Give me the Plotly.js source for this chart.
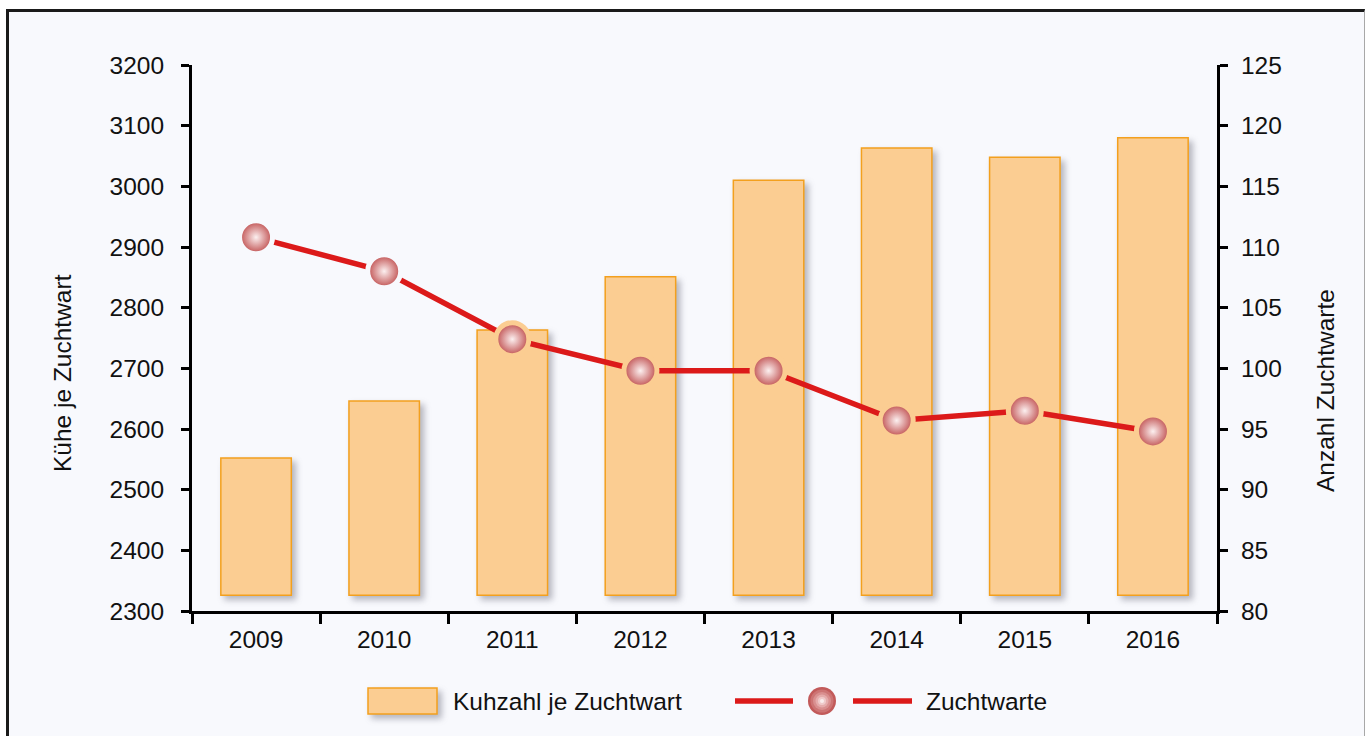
<!DOCTYPE html>
<html>
<head>
<meta charset="utf-8">
<script src="https://cdn.plot.ly/plotly-3.0.1.min.js"></script>
<style>
  html, body { margin: 0; padding: 0; background: #ffffff; overflow: hidden; width: 1365px; height: 736px; }
  #frame { position: absolute; left: 6px; top: 9px; width: 1355px; height: 740px;
           border-top: 3px solid #1a1a1a; border-left: 3px solid #1a1a1a; border-right: 1px solid #a8a8a8;
           background: #f8f9fd; overflow: hidden; }
  #chart { width: 1355px; height: 740px; }
  .barlayer .point path { filter: drop-shadow(4px 4px 3px rgba(70,70,90,0.38)); }
  .shapelayer path[data-index="0"] { filter: drop-shadow(4px 4px 3px rgba(70,70,90,0.38)); }
</style>
</head>
<body>
<div id="frame"><div id="chart"></div></div>
<script>
// ---- data ----
const years = ['2009', '2010', '2011', '2012', '2013', '2014', '2015', '2016'];
const kuhzahl = [2552, 2646, 2763, 2851, 3010, 3063, 3048, 3080];
const zuchtwarte = [110.8, 108.0, 102.4, 99.8, 99.8, 95.7, 96.5, 94.8];
const leftTicks = [2300, 2400, 2500, 2600, 2700, 2800, 2900, 3000, 3100, 3200];
const rightTicks = [80, 85, 90, 95, 100, 105, 110, 115, 120, 125];
const leftTitle = 'Kühe je Zuchtwart';
const rightTitle = 'Anzahl Zuchtwarte';
const barBase = 2326;

// ---- style ----
const FONT = 'Liberation Sans, Arial, Helvetica, sans-serif';
const BG = '#f8f9fd';
const BAR_FILL = '#fbcd92';
const BAR_EDGE = '#f3a01e';
const RED = '#dc1a1a';
// per-point ring colour (gap around markers matches what lies beneath)
const ringColors = [BG, BG, BAR_FILL, BAR_FILL, BAR_FILL, BAR_FILL, BAR_FILL, BAR_FILL];

// plot area inside the chart div (px)
const W = 1355, H = 740;
const M = {l: 183, r: 147, t: 53, b: 141};
const PW = W - M.l - M.r, PH = H - M.t - M.b;
// page coords -> paper coords (div origin at page 9,12)
const px = X => (X - 9 - M.l) / PW;
const py = Y => (H - M.b - (Y - 12)) / PH;

const bars = {
  type: 'bar', name: 'Kuhzahl je Zuchtwart',
  x: years, y: kuhzahl.map(v => v - barBase), base: barBase,
  width: 0.55,
  marker: {color: BAR_FILL, line: {color: BAR_EDGE, width: 1.5}},
  yaxis: 'y', hoverinfo: 'x+text', text: kuhzahl.map(String), textposition: 'none'
};
const line = {
  type: 'scatter', mode: 'lines+markers', name: 'Zuchtwarte',
  x: years, y: zuchtwarte, yaxis: 'y2',
  line: {color: RED, width: 5.5},
  marker: {size: 33, color: '#bf4d4d',
           gradient: {type: 'radial', color: '#fcf0f0'},
           line: {color: ringColors, width: 5}}
};

const axisFont = {family: FONT, size: 24.5, color: '#111'};

// legend (drawn manually for large swatches)
const legY = 701;
const sphere = [[14, '#c25a5a'], [11.5, '#cd7474'], [9, '#d98f8f'], [6.5, '#e5abab'], [4, '#efcaca'], [2, '#f9ecec']];
const shapes = [
  {type: 'rect', xref: 'paper', yref: 'paper', x0: px(368), x1: px(437), y0: py(714), y1: py(688),
   fillcolor: BAR_FILL, line: {color: BAR_EDGE, width: 1.5}},
  {type: 'line', xref: 'paper', yref: 'paper', x0: px(735), x1: px(793), y0: py(legY), y1: py(legY),
   line: {color: RED, width: 5.5}},
  {type: 'line', xref: 'paper', yref: 'paper', x0: px(853), x1: px(912), y0: py(legY), y1: py(legY),
   line: {color: RED, width: 5.5}}
];
sphere.forEach(([r, c]) => shapes.push({
  type: 'circle', xref: 'paper', yref: 'paper',
  x0: px(822 - r), x1: px(822 + r), y0: py(legY + r), y1: py(legY - r),
  fillcolor: c, line: {width: 0}
}));

const annotations = [
  {xref: 'paper', yref: 'paper', x: px(451), y: py(legY), xanchor: 'left', yanchor: 'middle',
   text: 'Kuhzahl je Zuchtwart', showarrow: false, font: axisFont},
  {xref: 'paper', yref: 'paper', x: px(924), y: py(legY), xanchor: 'left', yanchor: 'middle',
   text: 'Zuchtwarte', showarrow: false, font: axisFont},
  // axis titles (placed below the vertical centre, as in the original)
  {xref: 'paper', yref: 'paper', x: px(62), y: py(373), xanchor: 'center', yanchor: 'middle',
   textangle: -90, text: leftTitle, showarrow: false, font: axisFont},
  {xref: 'paper', yref: 'paper', x: px(1325), y: py(391), xanchor: 'center', yanchor: 'middle',
   textangle: -90, text: rightTitle, showarrow: false, font: axisFont}
];

const layout = {
  width: W, height: H,
  margin: M,
  paper_bgcolor: BG, plot_bgcolor: BG,
  showlegend: false,
  font: axisFont,
  xaxis: {
    type: 'category', range: [-0.5, 7.5], tickson: 'boundaries',
    ticks: 'outside', ticklen: 10, tickwidth: 3, tickcolor: '#000',
    showline: true, linewidth: 3, linecolor: '#000', showgrid: false, zeroline: false,
    tickfont: axisFont, ticklabelstandoff: 5
  },
  yaxis: {
    range: [2300, 3200], tickvals: leftTicks, ticktext: leftTicks.map(String),
    ticks: 'outside', ticklen: 8, tickwidth: 3, tickcolor: '#000',
    showline: true, linewidth: 3, linecolor: '#000', showgrid: false, zeroline: false,
    tickfont: axisFont, ticklabelstandoff: 12
  },
  yaxis2: {
    overlaying: 'y', side: 'right', range: [80, 125],
    tickvals: rightTicks, ticktext: rightTicks.map(String),
    ticks: 'outside', ticklen: 8, tickwidth: 3, tickcolor: '#000',
    showline: true, linewidth: 3, linecolor: '#000', showgrid: false, zeroline: false,
    tickfont: axisFont, ticklabelstandoff: 8
  },
  yaxis3: {
    overlaying: 'y', range: [2300, 3200], autorange: false, tickvals: leftTicks,
    ticks: 'inside', ticklen: 8, tickwidth: 3, tickcolor: '#000',
    showticklabels: false, showline: false, showgrid: false, zeroline: false
  },
  yaxis4: {
    overlaying: 'y', side: 'right', range: [80, 125], autorange: false, tickvals: rightTicks,
    ticks: 'inside', ticklen: 8, tickwidth: 3, tickcolor: '#000',
    showticklabels: false, showline: false, showgrid: false, zeroline: false
  },
  shapes: shapes,
  annotations: annotations
};

Plotly.newPlot('chart', [bars, line], layout, {displayModeBar: false, staticPlot: true});
</script>
</body>
</html>
